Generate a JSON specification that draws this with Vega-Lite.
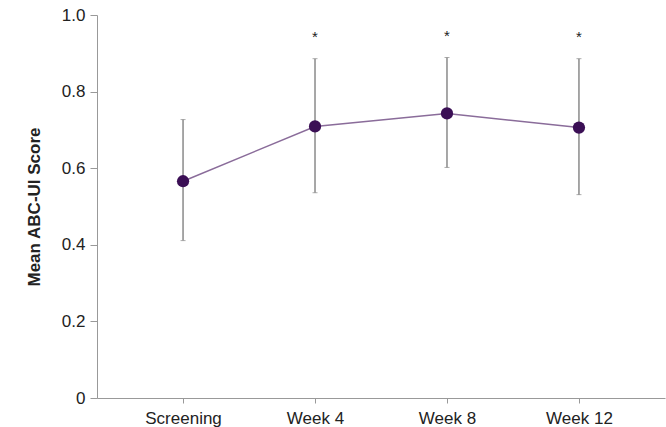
{
  "$schema": "https://vega.github.io/schema/vega-lite/v6.json",
  "width": 568,
  "height": 383,
  "autosize": "none",
  "padding": {"left": 97, "top": 15, "right": 1, "bottom": 29},
  "background": "white",
  "config": {"view": {"stroke": null}, "font": "Liberation Sans"},
  "data": {"values": [
    {"time": "Screening", "mean": 0.566, "lower": 0.411, "upper": 0.727, "sig": ""},
    {"time": "Week 4", "mean": 0.709, "lower": 0.536, "upper": 0.886, "sig": "*"},
    {"time": "Week 8", "mean": 0.743, "lower": 0.602, "upper": 0.889, "sig": "*"},
    {"time": "Week 12", "mean": 0.706, "lower": 0.531, "upper": 0.886, "sig": "*"}
  ]},
  "encoding": {
    "x": {
      "field": "time", "type": "ordinal", "sort": null,
      "scale": {"type": "point", "padding": 0.652},
      "axis": {"title": null, "labelAngle": 0, "labelFontSize": 17, "labelColor": "#222",
               "domainColor": "#999", "tickColor": "#999", "tickSize": 5, "labelPadding": 7, "grid": false}
    }
  },
  "layer": [
    {
      "mark": {"type": "rule", "color": "#8a8a8a", "strokeWidth": 1.5},
      "encoding": {
        "y": {"field": "lower", "type": "quantitative", "scale": {"domain": [0, 1]},
              "axis": {"title": "Mean ABC-UI Score", "titleFontSize": 17, "titleFontWeight": "bold", "titleColor": "#222",
                       "titlePadding": 18, "values": [0, 0.2, 0.4, 0.6, 0.8, 1.0],
                       "labelExpr": "datum.value == 0 ? '0' : format(datum.value, '.1f')",
                       "labelFontSize": 17, "labelColor": "#222", "domainColor": "#999", "tickColor": "#999",
                       "tickSize": 7, "labelPadding": 5, "grid": false}},
        "y2": {"field": "upper"}
      }
    },
    {
      "mark": {"type": "tick", "color": "#8a8a8a", "size": 5, "thickness": 1},
      "encoding": {"y": {"field": "upper", "type": "quantitative"}}
    },
    {
      "mark": {"type": "tick", "color": "#8a8a8a", "size": 5, "thickness": 1},
      "encoding": {"y": {"field": "lower", "type": "quantitative"}}
    },
    {
      "mark": {"type": "line", "color": "#8a6c9a", "strokeWidth": 1.5},
      "encoding": {"y": {"field": "mean", "type": "quantitative"}}
    },
    {
      "mark": {"type": "circle", "color": "#3b0f55", "size": 150, "opacity": 1},
      "encoding": {"y": {"field": "mean", "type": "quantitative"}}
    },
    {
      "mark": {"type": "text", "fontSize": 15, "color": "#222", "baseline": "middle", "dy": -22},
      "encoding": {"y": {"field": "upper", "type": "quantitative"}, "text": {"field": "sig"}}
    }
  ]
}
